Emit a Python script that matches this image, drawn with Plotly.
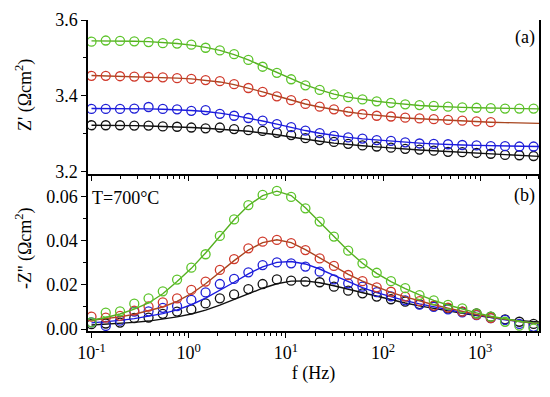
import plotly.graph_objects as go

# frequencies (Hz) of measured points
freq = [0.1, 0.1402, 0.1966, 0.2756, 0.3864, 0.5417, 0.7595, 1.065, 1.493, 2.093,
        2.934, 4.114, 5.768, 8.087, 11.34, 15.90, 22.29, 31.25, 43.81, 61.42,
        86.11, 120.7, 169.2, 237.3, 332.7, 466.4, 653.9, 916.8, 1285, 1802, 2527, 3542]
# frequencies for fitted curves
freq_fit = freq + [4027]

# Panel (a): Z'
zr_green = [3.543, 3.546, 3.545, 3.544, 3.542, 3.539, 3.538, 3.535, 3.527, 3.520, 3.510, 3.495,
            3.477, 3.461, 3.444, 3.428, 3.416, 3.404, 3.397, 3.391, 3.386, 3.382, 3.378, 3.376,
            3.374, 3.372, 3.370, 3.369, 3.368, 3.367, 3.367, 3.367]
zr_red = [3.453, 3.453, 3.452, 3.451, 3.450, 3.449, 3.447, 3.445, 3.442, 3.439, 3.431, 3.421,
          3.411, 3.399, 3.389, 3.379, 3.372, 3.365, 3.359, 3.352, 3.348, 3.346, 3.343, 3.341,
          3.339, 3.337, 3.335, 3.333, 3.331]
zr_blue = [3.366, 3.366, 3.366, 3.367, 3.371, 3.366, 3.365, 3.361, 3.363, 3.353, 3.348, 3.342,
           3.335, 3.326, 3.318, 3.309, 3.302, 3.295, 3.291, 3.288, 3.284, 3.282, 3.278, 3.275,
           3.274, 3.273, 3.271, 3.270, 3.268, 3.268, 3.267, 3.267]
zr_black = [3.323, 3.323, 3.323, 3.322, 3.322, 3.320, 3.319, 3.317, 3.315, 3.317, 3.313, 3.310,
            3.308, 3.303, 3.297, 3.289, 3.284, 3.279, 3.274, 3.270, 3.267, 3.264, 3.261, 3.259,
            3.256, 3.253, 3.252, 3.250, 3.248, 3.245, 3.244, 3.242]

zr_green_fit = [3.545, 3.545, 3.545, 3.544, 3.543, 3.541, 3.538, 3.534, 3.528, 3.520, 3.509, 3.495,
                3.478, 3.461, 3.445, 3.429, 3.416, 3.405, 3.397, 3.391, 3.386, 3.382, 3.378, 3.375,
                3.373, 3.371, 3.370, 3.369, 3.368, 3.367, 3.367, 3.366, 3.366]
zr_red_fit = [3.454, 3.453, 3.452, 3.451, 3.450, 3.449, 3.447, 3.445, 3.441, 3.437, 3.430, 3.421,
              3.411, 3.400, 3.389, 3.379, 3.371, 3.364, 3.358, 3.353, 3.349, 3.345, 3.342, 3.340,
              3.338, 3.336, 3.334, 3.332, 3.331, 3.330, 3.329, 3.328, 3.328]
zr_blue_fit = [3.367, 3.367, 3.367, 3.366, 3.366, 3.365, 3.364, 3.362, 3.359, 3.355, 3.349, 3.342,
               3.334, 3.326, 3.317, 3.309, 3.302, 3.296, 3.291, 3.287, 3.284, 3.281, 3.278, 3.276,
               3.274, 3.272, 3.271, 3.270, 3.269, 3.268, 3.267, 3.267, 3.267]
zr_black_fit = [3.323, 3.323, 3.322, 3.322, 3.321, 3.320, 3.319, 3.317, 3.315, 3.313, 3.310, 3.307,
                3.303, 3.298, 3.292, 3.286, 3.281, 3.276, 3.272, 3.269, 3.266, 3.263, 3.261, 3.258,
                3.256, 3.254, 3.252, 3.250, 3.248, 3.246, 3.244, 3.242, 3.241]

# Panel (b): -Z''
zi_green = [0.0030, 0.0074, 0.0080, 0.0115, 0.0139, 0.0171, 0.0224, 0.0278, 0.0339, 0.0422, 0.0497,
            0.0562, 0.0608, 0.0626, 0.0599, 0.0547, 0.0487, 0.0419, 0.0355, 0.0298, 0.0255, 0.0217,
            0.0185, 0.0154, 0.0130, 0.0109, 0.0094, 0.0071, 0.0056, 0.0033, 0.0015, 0.0002]
zi_red = [0.0056, 0.0052, 0.0060, 0.0083, 0.0102, 0.0121, 0.0139, 0.0177, 0.0215, 0.0268, 0.0317,
          0.0366, 0.0396, 0.0404, 0.0389, 0.0358, 0.0320, 0.0286, 0.0245, 0.0217, 0.0189, 0.0169,
          0.0147, 0.0126, 0.0106, 0.0097, 0.0079, 0.0064, 0.0050]
zi_blue = [0.0030, 0.0014, 0.0038, 0.0079, 0.0080, 0.0096, 0.0104, 0.0132, 0.0166, 0.0204, 0.0227,
           0.0257, 0.0290, 0.0302, 0.0298, 0.0283, 0.0260, 0.0225, 0.0207, 0.0192, 0.0167, 0.0148,
           0.0130, 0.0111, 0.0100, 0.0089, 0.0076, 0.0063, 0.0049, 0.0041, 0.0023, 0.0010]
zi_black = [0.0022, 0.0025, 0.0029, 0.0050, 0.0052, 0.0069, 0.0079, 0.0089, 0.0116, 0.0139, 0.0157,
            0.0181, 0.0204, 0.0225, 0.0219, 0.0215, 0.0212, 0.0192, 0.0174, 0.0162, 0.0147, 0.0135,
            0.0124, 0.0113, 0.0104, 0.0094, 0.0079, 0.0071, 0.0056, 0.0044, 0.0033, 0.0023]

zi_green_fit = [0.0040, 0.0052, 0.0068, 0.0090, 0.0118, 0.0160, 0.0215, 0.0275, 0.0345, 0.0420, 0.0495,
                0.0560, 0.0605, 0.0625, 0.0605, 0.0550, 0.0485, 0.0418, 0.0355, 0.0298, 0.0252, 0.0215,
                0.0183, 0.0155, 0.0130, 0.0109, 0.0090, 0.0073, 0.0058, 0.0045, 0.0035, 0.0028, 0.0026]
zi_red_fit = [0.0040, 0.0046, 0.0055, 0.0067, 0.0082, 0.0100, 0.0125, 0.0160, 0.0205, 0.0258, 0.0310,
              0.0358, 0.0392, 0.0405, 0.0392, 0.0360, 0.0322, 0.0284, 0.0248, 0.0217, 0.0190, 0.0166,
              0.0146, 0.0127, 0.0110, 0.0095, 0.0080, 0.0066, 0.0054, 0.0043, 0.0034, 0.0027, 0.0025]
zi_blue_fit = [0.0028, 0.0033, 0.0039, 0.0047, 0.0057, 0.0070, 0.0087, 0.0110, 0.0140, 0.0175, 0.0212,
               0.0250, 0.0282, 0.0302, 0.0306, 0.0295, 0.0272, 0.0243, 0.0214, 0.0188, 0.0165, 0.0146,
               0.0129, 0.0114, 0.0100, 0.0087, 0.0075, 0.0063, 0.0052, 0.0042, 0.0034, 0.0027, 0.0025]
zi_black_fit = [0.0018, 0.0021, 0.0025, 0.0030, 0.0036, 0.0044, 0.0055, 0.0068, 0.0086, 0.0108, 0.0133,
                0.0160, 0.0185, 0.0205, 0.0217, 0.0218, 0.0210, 0.0196, 0.0180, 0.0163, 0.0147, 0.0132,
                0.0118, 0.0105, 0.0093, 0.0082, 0.0071, 0.0061, 0.0052, 0.0044, 0.0038, 0.0034, 0.0032]

x_tickvals = [0.1, 1, 10, 100, 1000]
x_ticktext = ["10<sup>-1</sup>", "10<sup>0</sup>", "10<sup>1</sup>", "10<sup>2</sup>", "10<sup>3</sup>"]
x_minor = [m * 10 ** e for e in range(-1, 4) for m in range(2, 10)]

FONT = "'Liberation Serif', 'Times New Roman', 'DejaVu Serif', serif"
FS = 18
colors = {"green": "#5cc42a", "red": "#d03a2c", "blue": "#1f1fd6", "black": "#111111"}
line_colors = {"green": "#55b020", "red": "#a8461f", "blue": "#1a1ae0", "black": "#111111"}

fig = go.Figure()

series_a = [("black", zr_black, zr_black_fit), ("blue", zr_blue, zr_blue_fit),
            ("red", zr_red, zr_red_fit), ("green", zr_green, zr_green_fit)]
series_b = [("black", zi_black, zi_black_fit), ("blue", zi_blue, zi_blue_fit),
            ("red", zi_red, zi_red_fit), ("green", zi_green, zi_green_fit)]

for xa, ya, series in [("x", "y", series_a), ("x2", "y2", series_b)]:
    for name, data, fit in series:
        fig.add_trace(go.Scatter(x=freq_fit, y=fit, mode="lines", xaxis=xa, yaxis=ya,
                                 line=dict(color=line_colors[name], width=1.4),
                                 showlegend=False, hoverinfo="skip"))
        fig.add_trace(go.Scatter(x=freq[:len(data)], y=data, mode="markers", xaxis=xa, yaxis=ya,
                                 marker=dict(symbol="circle-open", size=9, color=colors[name],
                                             line=dict(width=1.3, color=colors[name])),
                                 showlegend=False))

xr = [-1.036, 3.605]
common_x = dict(type="log", range=xr, showline=True, linecolor="black", linewidth=1.5,
                showgrid=False, zeroline=False, tickcolor="black", tickwidth=1.2)
common_y = dict(showline=True, linecolor="black", linewidth=1.5, mirror=True, showgrid=False,
                zeroline=False, ticks="outside", ticklen=5, tickwidth=1.2, tickcolor="black",
                tickfont=dict(family=FONT, size=FS, color="black"))

fig.update_layout(
    width=550, height=397,
    margin=dict(l=88, r=10.5, t=20, b=66),
    paper_bgcolor="white", plot_bgcolor="white",
    font=dict(family=FONT, size=FS, color="black"),
    showlegend=False,
    xaxis=dict(**common_x, domain=[0, 1], anchor="y", side="bottom", ticks="outside", ticklen=5,
               tickmode="array", tickvals=x_tickvals, showticklabels=False,
               minor=dict(tickmode="array", tickvals=x_minor, ticks="outside", ticklen=3,
                          tickcolor="black", tickwidth=1.0, showgrid=False)),
    xaxis3=dict(**common_x, overlaying="x", anchor="y", side="top", ticks="inside", ticklen=5,
                tickmode="array", tickvals=x_tickvals, showticklabels=False,
                minor=dict(tickmode="array", tickvals=x_minor, ticks="inside", ticklen=3,
                           tickcolor="black", tickwidth=1.0, showgrid=False)),
    xaxis2=dict(**common_x, domain=[0, 1], anchor="y2", side="bottom", mirror=True,
                ticks="outside", ticklen=5, tickmode="array", tickvals=x_tickvals,
                ticktext=x_ticktext, tickfont=dict(family=FONT, size=FS, color="black"),
                minor=dict(tickmode="array", tickvals=x_minor, ticks="outside", ticklen=3,
                           tickcolor="black", tickwidth=1.0, showgrid=False),
                title=dict(text="f (Hz)", font=dict(family=FONT, size=FS, color="black"),
                           standoff=4)),
    yaxis=dict(**common_y, domain=[0.504, 1], anchor="x", range=[3.194, 3.6],
               tickmode="array", tickvals=[3.2, 3.4, 3.6], ticktext=["3.2", "3.4", "3.6"],
               minor=dict(tickmode="array", tickvals=[3.3, 3.5], ticks="outside", ticklen=3,
                          tickcolor="black", tickwidth=1.0, showgrid=False)),
    yaxis2=dict(**common_y, domain=[0, 0.5], anchor="x2", range=[-0.0009, 0.0696],
                tickmode="array", tickvals=[0, 0.02, 0.04, 0.06],
                ticktext=["0.00", "0.02", "0.04", "0.06"],
                minor=dict(tickmode="array", tickvals=[0.01, 0.03, 0.05], ticks="outside",
                           ticklen=3, tickcolor="black", tickwidth=1.0, showgrid=False)),
)

ann_font = dict(family=FONT, size=FS, color="black")
fig.add_annotation(text="Z' (Ωcm<sup>2</sup>)", xref="paper", yref="paper",
                   x=(24 - 88) / 451.5, y=1 - (95 - 20) / 311, textangle=-90,
                   showarrow=False, xanchor="center", yanchor="middle", font=ann_font)
fig.add_annotation(text="-Z'' (Ωcm<sup>2</sup>)", xref="paper", yref="paper",
                   x=(24 - 88) / 451.5, y=1 - (248 - 20) / 311, textangle=-90,
                   showarrow=False, xanchor="center", yanchor="middle", font=ann_font)
fig.add_annotation(text="(a)", xref="paper", yref="paper", x=(537 - 88) / 451.5,
                   y=1 - (37 - 20) / 311, showarrow=False, xanchor="right", yanchor="middle",
                   font=ann_font)
fig.add_annotation(text="(b)", xref="paper", yref="paper", x=(537 - 88) / 451.5,
                   y=1 - (195 - 20) / 311, showarrow=False, xanchor="right", yanchor="middle",
                   font=ann_font)
fig.add_annotation(text="T=700°C", xref="paper", yref="paper", x=(90 - 88) / 451.5,
                   y=1 - (198 - 20) / 311, showarrow=False, xanchor="left", yanchor="middle",
                   font=ann_font)

fig.write_html("out.html", config={"displayModeBar": False},
               post_script="document.body.style.margin='0px';document.body.style.overflow='hidden';")
